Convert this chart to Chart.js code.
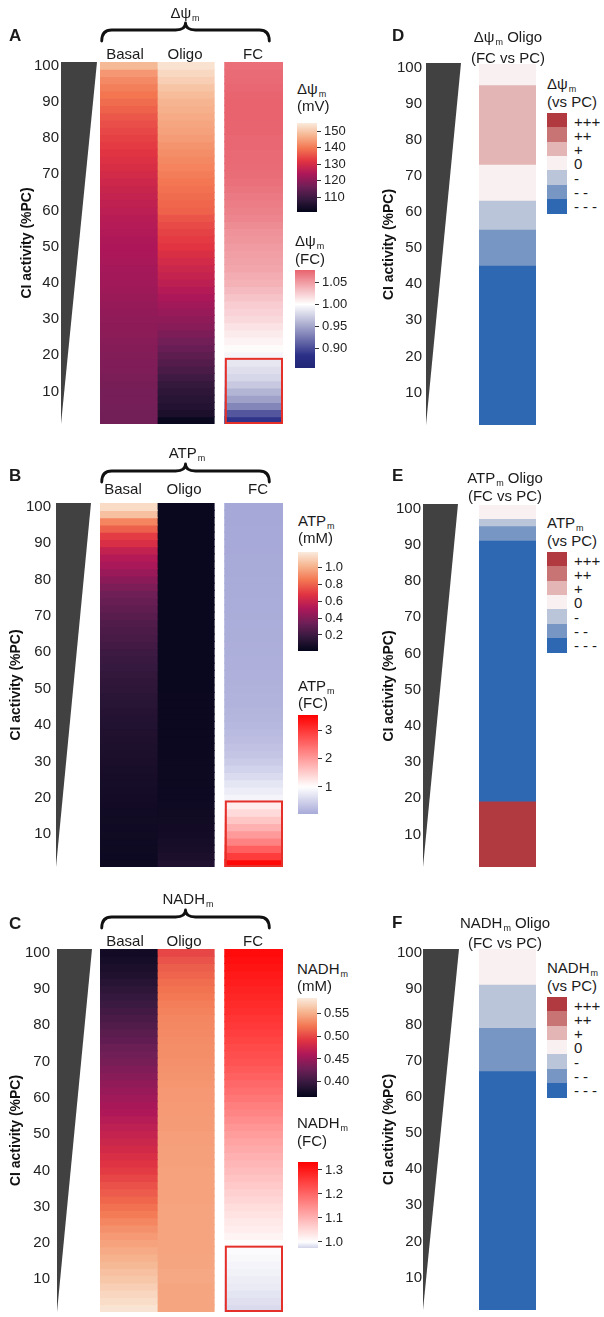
<!DOCTYPE html>
<html><head><meta charset="utf-8">
<script src="https://cdn.jsdelivr.net/npm/chart.js@4.4.1/dist/chart.umd.min.js"></script>
<style>
html,body{margin:0;padding:0;background:#fff}
body{width:604px;height:1317px;position:relative;overflow:hidden;font-family:"Liberation Sans",Arial,Helvetica,sans-serif;color:#1b1b1b}
.box{position:absolute}
.t{position:absolute;white-space:nowrap;line-height:1;font-size:15px}
.cc{transform:translate(-50%,-50%)}
.lc{transform:translateY(-50%)}
.b{font-weight:bold;font-size:17px}
sub{font-size:9px;line-height:0;vertical-align:-3px;margin-left:1px}
.sw{position:absolute;width:20px}
.dash{letter-spacing:4px}
</style></head><body>
<div id="charts"></div>
<div id="texts"></div>
<script>
// ---------------- DATA ----------------
const ciRows = [2,4,6,8,10,12,14,16,18,20,22,24,26,28,30,32,34,36,38,40,42,44,46,48,50,52,54,56,58,60,62,64,66,68,70,72,74,76,78,80,82,84,86,88,90,92,94,96,98,100];
const ciTicks = [10,20,30,40,50,60,70,80,90,100];
const heatColumns = ['Basal','Oligo','FC'];

// Δψm (mV)
const dpsiBasal = [116.7,116.8,116.9,117.1,117.2,117.5,117.8,118.2,118.5,118.8,
  119.1,119.5,119.8,120.1,120.4,120.9,121.3,121.7,122.2,122.6,
  122.9,123.2,123.6,123.9,124.2,124.5,124.9,125.3,125.7,126.3,
  126.8,127.5,128.1,128.9,129.6,130.4,131.1,131.9,132.6,133.4,
  134.3,135.1,136.1,137.2,138.4,139.6,140.7,142.0,143.7,148.0];
const dpsiOligo = [102.1,104.8,105.9,106.7,107.5,108.6,110.0,111.3,112.7,114.0,
  115.4,116.8,118.1,119.4,120.4,121.5,122.6,124.0,125.2,126.4,
  127.5,128.5,129.6,130.7,131.8,132.6,133.6,134.5,135.6,137.2,
  137.7,138.4,139.0,139.7,140.4,141.2,141.8,142.6,143.3,144.2,
  144.9,145.5,146.1,146.8,147.4,148.5,149.6,150.9,152.3,153.7];
const dpsiFC = [0.887,0.907,0.933,0.948,0.959,0.970,0.978,0.982,0.987,0.995,
  1.002,1.006,1.010,1.014,1.019,1.022,1.025,1.029,1.034,1.038,
  1.041,1.044,1.046,1.048,1.050,1.052,1.054,1.057,1.060,1.062,
  1.064,1.066,1.068,1.070,1.072,1.073,1.074,1.074,1.075,1.075,
  1.076,1.076,1.077,1.077,1.077,1.076,1.075,1.074,1.073,1.071];
const dpsiMvTicks = [110,120,130,140,150];
const dpsiFcTicks = [0.90,0.95,1.00,1.05];

// ATPm (mM)
const atpBasal = [0.044,0.046,0.048,0.050,0.052,0.055,0.058,0.061,0.064,0.067,
  0.071,0.075,0.079,0.083,0.088,0.093,0.098,0.103,0.109,0.115,
  0.121,0.128,0.135,0.142,0.150,0.160,0.170,0.180,0.190,0.200,
  0.215,0.230,0.245,0.260,0.280,0.300,0.320,0.340,0.380,0.420,
  0.460,0.500,0.530,0.580,0.650,0.700,0.790,0.885,1.050,1.130];
const atpOligo = [0.110,0.095,0.085,0.075,0.068,0.062,0.057,0.053,0.050,0.047,
  0.045,0.043,0.042,0.041,0.040,0.039,0.039,0.038,0.038,0.037,
  0.037,0.036,0.036,0.036,0.035,0.035,0.035,0.034,0.034,0.034,
  0.034,0.033,0.033,0.033,0.033,0.033,0.032,0.032,0.032,0.032,
  0.032,0.032,0.032,0.032,0.032,0.032,0.032,0.032,0.032,0.032];
const atpFC = [3.45,2.93,2.59,2.24,2.00,1.78,1.57,1.37,1.19,0.88,
  0.80,0.72,0.60,0.50,0.42,0.36,0.31,0.27,0.24,0.21,
  0.19,0.175,0.16,0.15,0.14,0.13,0.125,0.12,0.115,0.11,
  0.105,0.10,0.095,0.09,0.085,0.08,0.075,0.07,0.066,0.062,
  0.058,0.055,0.052,0.049,0.046,0.043,0.040,0.037,0.034,0.030];
const atpMmTicks = [0.2,0.4,0.6,0.8,1.0];
const atpFcTicks = [1,2,3];

// NADHm (mM)
const nadhBasal = [0.579,0.575,0.571,0.567,0.563,0.559,0.555,0.551,0.547,0.543,
  0.539,0.534,0.529,0.524,0.519,0.514,0.509,0.504,0.499,0.494,
  0.489,0.485,0.481,0.477,0.473,0.469,0.465,0.461,0.457,0.453,
  0.449,0.445,0.441,0.437,0.433,0.429,0.425,0.421,0.417,0.413,
  0.409,0.405,0.401,0.397,0.393,0.389,0.385,0.382,0.379,0.377];
const nadhOligo = [0.545,0.545,0.545,0.545,0.546,0.546,0.545,0.545,0.544,0.544,
  0.544,0.544,0.544,0.544,0.544,0.543,0.543,0.543,0.543,0.543,
  0.542,0.542,0.542,0.541,0.541,0.540,0.540,0.539,0.539,0.538,
  0.538,0.537,0.536,0.535,0.534,0.533,0.533,0.532,0.531,0.530,
  0.529,0.527,0.525,0.522,0.520,0.517,0.513,0.510,0.505,0.499];
const nadhFC = [0.979,0.982,0.985,0.988,0.990,0.992,0.994,0.996,0.998,1.004,
  1.014,1.023,1.030,1.037,1.044,1.053,1.062,1.070,1.079,1.087,
  1.095,1.103,1.111,1.120,1.128,1.139,1.149,1.159,1.169,1.179,
  1.188,1.197,1.206,1.216,1.225,1.231,1.237,1.244,1.251,1.259,
  1.265,1.271,1.277,1.283,1.289,1.295,1.301,1.307,1.313,1.318];
const nadhMmTicks = [0.40,0.45,0.50,0.55];
const nadhFcTicks = [1.0,1.1,1.2,1.3];

// Oligo FC vs PC categorical levels (segment boundaries in CI %, level per segment)
const levelLabels = ['+++','++','+','0','-','--','---'];
const levelValues = [3,2,1,0,-1,-2,-3];
const dpsiSegBounds = [1,45,55,63,73,95,101];
const dpsiSegLevels = [-3,-2,-1,0,1,0];
const atpSegBounds = [1,19,91,95,97,101];
const atpSegLevels = [3,-3,-2,-1,0];
const nadhSegBounds = [1,67,79,91,101];
const nadhSegLevels = [-3,-2,-1,0];
const fcBoxCI = [1,19];

// ---------------- STYLE / COLOUR MAPS ----------------
const FONT = '"Liberation Sans", Arial, Helvetica, sans-serif';
Chart.defaults.font.family = FONT;
const ROCKET = [[0,'#03051A'],[0.143,'#35193E'],[0.286,'#701F57'],[0.429,'#AD1759'],[0.571,'#E13342'],[0.714,'#F37651'],[0.857,'#F6B48F'],[1,'#FAEBDD']];
const levelColor = {'3':'#B13A41','2':'#C97474','1':'#E3B5B5','0':'#F9F1F1','-1':'#BAC5D9','-2':'#7896C4','-3':'#2E68B2'};

function hex(c){return [parseInt(c.slice(1,3),16),parseInt(c.slice(3,5),16),parseInt(c.slice(5,7),16)];}
function makeMap(stops){
  const s = stops.map(([v,c])=>[v,hex(c)]);
  return v=>{
    if(v<=s[0][0]) return 'rgb('+s[0][1].join(',')+')';
    for(let i=1;i<s.length;i++){
      if(v<=s[i][0]){
        const t=(v-s[i-1][0])/(s[i][0]-s[i-1][0]);
        const c=s[i-1][1].map((a,k)=>Math.round(a+(s[i][1][k]-a)*t));
        return 'rgb('+c.join(',')+')';
      }
    }
    return 'rgb('+s[s.length-1][1].join(',')+')';
  };
}
const rocketStops=(a,b)=>ROCKET.map(([t,c])=>[a+t*(b-a),c]);

const dpsiMvRange=[101,155], dpsiFcRange=[0.857,1.077];
const atpMmRange=[0.01,1.18], atpFcRange=[0.05,3.53];
const nadhMmRange=[0.367,0.583], nadhFcRange=[0.975,1.333];
const dpsiMvMap = makeMap(rocketStops(...dpsiMvRange));
const dpsiFcMap = makeMap([[0.857,'#222675'],[0.885,'#2B2F87'],[1.0,'#FFFFFF'],[1.077,'#E8636E']]);
const atpMmMap = makeMap(rocketStops(...atpMmRange));
const atpFcMap = makeMap([[0,'#A3A5D6'],[1,'#FFFFFF'],[3.53,'#FF0000']]);
const nadhMmMap = makeMap(rocketStops(...nadhMmRange));
const nadhFcMap = makeMap([[0.975,'#D2D3E9'],[1.0,'#FFFFFF'],[1.333,'#FF0000']]);

// ---------------- HELPERS ----------------
function mkCanvas(left, top, w, h){
  const d=document.createElement('div'); d.className='box';
  Object.assign(d.style,{left:left+'px',top:top+'px',width:w+'px',height:h+'px'});
  const c=document.createElement('canvas'); c.width=w; c.height=h; c.style.width=w+'px'; c.style.height=h+'px';
  d.appendChild(c); document.getElementById('charts').appendChild(d); return c;
}

const decor = {
  id:'decor',
  afterDatasetsDraw(chart, args, o){
    const {ctx, chartArea:a, scales:{x,y}} = chart;
    const yt=y.getPixelForValue(y.max), yb=y.getPixelForValue(y.min);
    ctx.save();
    ctx.fillStyle='#414141';
    ctx.beginPath();
    ctx.moveTo(a.left+o.tri[0], yt+(o.triTop||0));
    ctx.lineTo(a.left+o.tri[1], yt+(o.triTop||0));
    ctx.lineTo(a.left+o.tri[0], yb);
    ctx.closePath(); ctx.fill();
    if(o.box){
      const x0=x.getPixelForValue(o.box.x[0]), x1=x.getPixelForValue(o.box.x[1]);
      const y0=y.getPixelForValue(o.box.y[1]), y1=y.getPixelForValue(o.box.y[0]);
      ctx.strokeStyle='#E5302A'; ctx.lineWidth=2;
      ctx.strokeRect(x0+1,y0,x1-x0-2,y1-y0-1);
    }
    if(o.brace){
      const x0=x.getPixelForValue(o.brace[0]), x1=x.getPixelForValue(o.brace[1]), xm=(x0+x1)/2;
      const tip=a.top-21, line=a.top-32, peak=a.top-39, r=10;
      ctx.strokeStyle='#111'; ctx.lineWidth=2.8; ctx.lineCap='round'; ctx.lineJoin='round';
      ctx.beginPath();
      ctx.moveTo(x0,tip);
      ctx.quadraticCurveTo(x0,line,x0+r,line);
      ctx.lineTo(xm-r,line);
      ctx.quadraticCurveTo(xm,line,xm,peak);
      ctx.quadraticCurveTo(xm,line,xm+r,line);
      ctx.lineTo(x1-r,line);
      ctx.quadraticCurveTo(x1,line,x1,tip);
      ctx.stroke();
    }
    ctx.restore();
  }
};

function yAxis(width, tickGap, titlePad){
  return {type:'linear', min:1, max:101, position:'left', offset:false,
    afterFit:s=>{s.width=width;},
    afterBuildTicks:s=>{s.ticks=ciTicks.map(v=>({value:v}));},
    grid:{display:true, offset:false, drawOnChartArea:false, drawTicks:true, tickLength:tickGap-3, tickColor:'rgba(0,0,0,0)'},
    border:{display:false},
    ticks:{font:{size:15,family:FONT}, color:'#222', padding:3},
    title:{display:true, text:'CI activity (%PC)', color:'#111', font:{size:14,weight:'bold',family:FONT}, padding:{top:titlePad,bottom:0}}
  };
}

const colX = {Basal:[0,1], Oligo:[1,2], FC:[2.19,3.21]};

function heatmap(top, height, padTop, padBottom, series, maps, o){
  const cv = mkCanvas(0, top, 290, height);
  new Chart(cv,{
    type:'bar',
    data:{datasets: heatColumns.map((name,k)=>({
      label:name,
      data: ciRows.map((ci,i)=>({y:ci, x:colX[name]})),
      backgroundColor: series[k].map(v=>maps[k](v)),
      borderWidth:0, barPercentage:1, categoryPercentage:1, grouped:false, inflateAmount:0.6
    }))},
    options:{indexAxis:'y', responsive:false, animation:false, devicePixelRatio:1,
      layout:{padding:{top:padTop,bottom:padBottom,left:0,right:7}},
      plugins:{legend:{display:false}, tooltip:{enabled:false},
        decor:{tri:o.tri, box:{x:colX.FC, y:fcBoxCI}, brace:[0.03,2.97]}},
      scales:{x:{type:'linear', display:false, offset:false, min:0, max:3.21}, y:yAxis(100,o.tickGap,o.titlePad)}
    },
    plugins:[decor]
  });
}

function levelBar(top, height, padTop, padBottom, bounds, levels, o){
  const cv = mkCanvas(380, top, 160, height);
  new Chart(cv,{
    type:'bar',
    data:{labels:['Oligo'], datasets: levels.map((lv,i)=>({
      label:levelLabels[levelValues.indexOf(lv)],
      data:[[bounds[i],bounds[i+1]]],
      backgroundColor:levelColor[String(lv)],
      borderWidth:0, barPercentage:1, categoryPercentage:1, grouped:false, inflateAmount:0.4
    }))},
    options:{responsive:false, animation:false, devicePixelRatio:1,
      layout:{padding:{top:padTop,bottom:padBottom,left:0,right:4}},
      plugins:{legend:{display:false}, tooltip:{enabled:false}, decor:{tri:o.tri, triTop:o.triTop}},
      scales:{x:{display:false}, y:yAxis(99,o.tickGap,o.titlePad)}
    },
    plugins:[decor]
  });
}

function colorbar(left, top, w, h, range, map, ticks, dec){
  const padT=14, padB=14, axisW=44;
  const [vmin,vmax]=range;
  const cv = mkCanvas(left, top-padT, w+axisW, h+padT+padB);
  new Chart(cv,{
    type:'bar',
    data:{labels:[''], datasets:[{data:[[vmin,vmax]], borderWidth:0, barPercentage:1, categoryPercentage:1,
      backgroundColor:(c)=>{
        const {ctx, chartArea, scales}=c.chart; if(!chartArea) return 'rgba(0,0,0,0)';
        const y=scales.y; const g=ctx.createLinearGradient(0,y.getPixelForValue(vmin),0,y.getPixelForValue(vmax));
        for(let i=0;i<=60;i++){ g.addColorStop(i/60, map(vmin+(vmax-vmin)*i/60)); }
        return g;
      }}]},
    options:{responsive:false, animation:false, devicePixelRatio:1,
      layout:{padding:{top:padT,bottom:padB,left:0,right:0}},
      plugins:{legend:{display:false}, tooltip:{enabled:false}},
      scales:{x:{display:false},
        y:{position:'right', min:vmin, max:vmax, afterFit:s=>{s.width=axisW;},
          afterBuildTicks:s=>{s.ticks=ticks.map(v=>({value:v}));},
          grid:{display:true, drawOnChartArea:false, drawTicks:true, tickLength:4, tickColor:'#333', lineWidth:1},
          border:{display:false},
          ticks:{font:{size:13,family:FONT}, color:'#222', padding:3, callback:v=>v.toFixed(dec)}}}
    }
  });
}

// ---------------- CHARTS ----------------
heatmap(0, 436, 62, 12, [dpsiBasal,dpsiOligo,dpsiFC], [dpsiMvMap,dpsiMvMap,dpsiFcMap], {tri:[-39,-3], tickGap:41, titlePad:18.6});
heatmap(440, 439, 63, 12, [atpBasal,atpOligo,atpFC], [atpMmMap,atpMmMap,atpFcMap], {tri:[-44,-9], tickGap:49, titlePad:7.6});
heatmap(880, 444, 69, 12, [nadhBasal,nadhOligo,nadhFC], [nadhMmMap,nadhMmMap,nadhFcMap], {tri:[-43,-8], tickGap:50, titlePad:7.6});

levelBar(0, 437, 64, 12, dpsiSegBounds, dpsiSegLevels, {tri:[-53,-18], triTop:-1, tickGap:57, titlePad:0.6});
levelBar(440, 439, 65, 12, atpSegBounds, atpSegLevels, {tri:[-56,-21], triTop:-1, tickGap:58, titlePad:0.6});
levelBar(880, 442, 69, 12, nadhSegBounds, nadhSegLevels, {tri:[-56,-20], triTop:0, tickGap:57, titlePad:0.6});

colorbar(297, 123, 20, 89, dpsiMvRange, dpsiMvMap, dpsiMvTicks, 0);
colorbar(295, 270, 20, 98, dpsiFcRange, dpsiFcMap, dpsiFcTicks, 2);
colorbar(298, 552, 20, 99, atpMmRange, atpMmMap, atpMmTicks, 1);
colorbar(298, 715, 20, 99, atpFcRange, atpFcMap, atpFcTicks, 0);
colorbar(297, 998, 20, 99, nadhMmRange, nadhMmMap, nadhMmTicks, 2);
colorbar(298, 1162, 20, 86, nadhFcRange, nadhFcMap, nadhFcTicks, 1);

// ---------------- TEXT ----------------
const T = document.getElementById('texts');
function txt(html, x, y, cls){ const d=document.createElement('div'); d.className='t '+(cls||'cc'); d.innerHTML=html; d.style.left=x+'px'; d.style.top=y+'px'; T.appendChild(d); }
function legend(left, top, title){
  txt(title, left, top-30, 'lc'); txt('(vs PC)', left, top-12, 'lc');
  levelValues.forEach((lv,i)=>{
    const s=document.createElement('div'); s.className='sw';
    Object.assign(s.style,{left:left+'px', top:(top+i*14.3)+'px', height:'14.8px', background:levelColor[String(lv)]});
    T.appendChild(s);
    txt(levelLabels[i], left+27, top+i*14.3+7.5, 'lc'+(lv<0?' dash':''));
  });
}
// A
txt('A', 9, 35, 'lc b');
txt('Δψ<sub>m</sub>', 185, 12);
txt('Basal',125,53); txt('Oligo',185,53); txt('FC',253,53);
txt('Δψ<sub>m</sub>', 297, 88, 'lc'); txt('(mV)', 297, 105, 'lc');
txt('Δψ<sub>m</sub>', 295, 240, 'lc'); txt('(FC)', 295, 258, 'lc');
// D
txt('D', 392, 35, 'lc b');
txt('Δψ<sub>m</sub> Oligo', 508, 36); txt('(FC vs PC)', 508, 57);
legend(547, 113, 'Δψ<sub>m</sub>');
// B
txt('B', 9, 475, 'lc b');
txt('ATP<sub>m</sub>', 187, 452);
txt('Basal',123,488); txt('Oligo',184,488); txt('FC',258,488);
txt('ATP<sub>m</sub>', 298, 520, 'lc'); txt('(mM)', 298, 537, 'lc');
txt('ATP<sub>m</sub>', 298, 685, 'lc'); txt('(FC)', 298, 702, 'lc');
// E
txt('E', 392, 475, 'lc b');
txt('ATP<sub>m</sub> Oligo', 505, 477); txt('(FC vs PC)', 505, 495);
legend(547, 552, 'ATP<sub>m</sub>');
// C
txt('C', 9, 923, 'lc b');
txt('NADH<sub>m</sub>', 188, 898);
txt('Basal',125,940); txt('Oligo',184,940); txt('FC',253,940);
txt('NADH<sub>m</sub>', 297, 968, 'lc'); txt('(mM)', 297, 985, 'lc');
txt('NADH<sub>m</sub>', 297, 1122, 'lc'); txt('(FC)', 297, 1140, 'lc');
// F
txt('F', 392, 922, 'lc b');
txt('NADH<sub>m</sub> Oligo', 505, 922); txt('(FC vs PC)', 505, 942);
legend(547, 997, 'NADH<sub>m</sub>');
</script>
</body></html>
